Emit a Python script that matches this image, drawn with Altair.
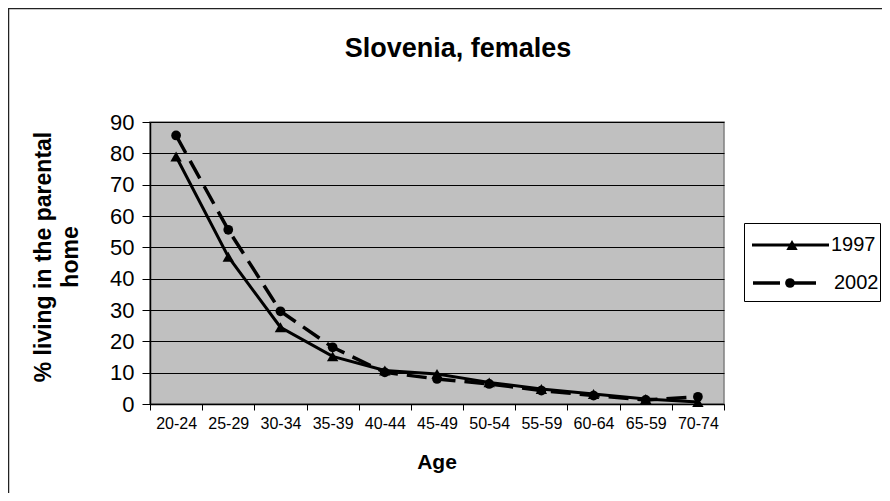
import altair as alt
import pandas as pd

ages = ["20-24", "25-29", "30-34", "35-39", "40-44", "45-49", "50-54",
        "55-59", "60-64", "65-59", "70-74"]
v1997 = [79.0, 47.0, 24.5, 15.2, 10.7, 9.6, 6.9, 4.8, 3.2, 1.6, 0.6]
v2002 = [85.7, 55.6, 29.6, 18.1, 10.1, 8.0, 6.4, 4.3, 2.7, 1.3, 2.3]
series = ["1997", "2002"]
title_text = "Slovenia, females"
y_title = ["% living in the parental", "home"]
x_title = "Age"

FONT = "Liberation Sans"

df = pd.DataFrame({
    "age": ages * 2,
    "value": v1997 + v2002,
    "year": [series[0]] * len(ages) + [series[1]] * len(ages),
})
one = pd.DataFrame({"a": [0]})

W, H = 574, 282

xenc = alt.X("age:N", sort=ages, bandPosition=0.5,
             scale=alt.Scale(type="band", paddingInner=0, paddingOuter=0),
             axis=alt.Axis(title=None, tickBand="extent", grid=False,
                           labelFontSize=16, labelFont=FONT, labelColor="black",
                           labelAngle=0, tickColor="black", tickSize=6,
                           domainColor="black", domainWidth=1.5, labelPadding=5))
yenc = alt.Y("value:Q", scale=alt.Scale(domain=[0, 90], nice=False),
             axis=alt.Axis(title=None, values=list(range(0, 91, 10)),
                           labelFontSize=22, labelFont=FONT, labelColor="black",
                           tickColor="black", tickSize=8, domainColor="black",
                           domainWidth=1.5, gridColor="black", gridWidth=1,
                           labelPadding=8))

base = alt.Chart(df)
line97 = base.transform_filter(alt.datum.year == series[0]).mark_line(
    color="black", strokeWidth=3).encode(x=xenc, y=yenc)
line02 = base.transform_filter(alt.datum.year == series[1]).mark_line(
    color="black", strokeWidth=3.5, strokeDash=[20, 9]).encode(x=xenc, y=yenc)
pts97 = base.transform_filter(alt.datum.year == series[0]).mark_point(
    shape="triangle-up", filled=True, color="black", size=130, opacity=1).encode(x=xenc, y=yenc)
pts02 = base.transform_filter(alt.datum.year == series[1]).mark_point(
    shape="circle", filled=True, color="black", size=95, opacity=1).encode(x=xenc, y=yenc)

c1 = alt.Chart(one)
frame = c1.mark_rect(fill=None, stroke="#222222", strokeWidth=1.5).encode(
    x=alt.value(-141.5), x2=alt.value(780), y=alt.value(-113.5), y2=alt.value(420))
title = c1.mark_text(text=title_text, font=FONT, fontSize=27, fontWeight="bold",
                     color="black", align="center", baseline="middle").encode(
    x=alt.value(308), y=alt.value(-73))
xt = c1.mark_text(text=x_title, font=FONT, fontSize=21, fontWeight="bold",
                  color="black", align="center", baseline="middle").encode(
    x=alt.value(287), y=alt.value(341))
yt = c1.mark_text(text=y_title, font=FONT, fontSize=23, fontWeight="bold",
                  color="black", align="center", baseline="middle", angle=270,
                  lineHeight=27).encode(x=alt.value(-106), y=alt.value(135))

legbox = c1.mark_rect(fill="white", stroke="black", strokeWidth=1).encode(
    x=alt.value(594.5), x2=alt.value(730.5), y=alt.value(101.5), y2=alt.value(179.5))
leg1 = c1.mark_rule(color="black", strokeWidth=3).encode(
    x=alt.value(602), x2=alt.value(679), y=alt.value(123))
leg2 = c1.mark_rule(color="black", strokeWidth=3.5, strokeDash=[27, 9]).encode(
    x=alt.value(603), x2=alt.value(670), y=alt.value(161))
legp1 = c1.mark_point(shape="triangle-up", filled=True, color="black", size=130,
                      opacity=1).encode(x=alt.value(642), y=alt.value(123))
legp2 = c1.mark_point(shape="circle", filled=True, color="black", size=95,
                      opacity=1).encode(x=alt.value(640), y=alt.value(161))
legt1 = c1.mark_text(text=series[0], font=FONT, fontSize=20, color="black",
                     align="left", baseline="middle").encode(x=alt.value(681), y=alt.value(123))
legt2 = c1.mark_text(text=series[1], font=FONT, fontSize=20, color="black",
                     align="left", baseline="middle").encode(x=alt.value(684), y=alt.value(161))

chart = alt.layer(
    frame, line97, line02, pts97, pts02, title, xt, yt,
    legbox, leg1, leg2, legp1, legp2, legt1, legt2
).properties(
    width=W, height=H,
    autosize=alt.AutoSizeParams(type="none"),
    padding={"left": 142, "top": 114, "right": 158, "bottom": 89},
    background="white",
).configure_view(
    fill="#c0c0c0", stroke="#808080", strokeWidth=1.5
)

chart.save("out.html", embed_options={"renderer": "svg", "actions": False})
